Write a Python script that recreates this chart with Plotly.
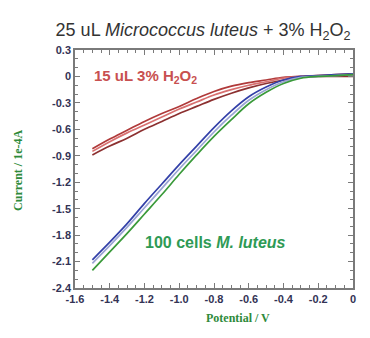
import plotly.graph_objects as go

potential = [-1.5, -1.4, -1.3, -1.2, -1.1, -1.0, -0.9, -0.8, -0.7, -0.6, -0.5, -0.4, -0.3, -0.2, -0.1, 0.0]

h2o2_a = [-0.82, -0.71, -0.61, -0.51, -0.42, -0.34, -0.25, -0.17, -0.11, -0.07, -0.04, -0.01, 0.00, 0.01, 0.02, 0.03]
h2o2_b = [-0.85, -0.74, -0.64, -0.55, -0.46, -0.37, -0.29, -0.21, -0.15, -0.10, -0.06, -0.02, 0.00, 0.01, 0.01, 0.02]
h2o2_c = [-0.89, -0.79, -0.70, -0.60, -0.51, -0.42, -0.34, -0.26, -0.19, -0.13, -0.08, -0.04, -0.01, 0.00, 0.00, 0.00]

cells_blue1 = [-2.08, -1.88, -1.67, -1.44, -1.22, -1.00, -0.79, -0.58, -0.39, -0.23, -0.12, -0.04, 0.00, 0.01, 0.02, 0.03]
cells_blue2 = [-2.12, -1.92, -1.71, -1.49, -1.27, -1.05, -0.84, -0.63, -0.44, -0.27, -0.15, -0.06, -0.01, 0.00, 0.01, 0.02]
cells_green = [-2.20, -1.99, -1.78, -1.56, -1.34, -1.11, -0.89, -0.68, -0.49, -0.31, -0.18, -0.08, -0.02, 0.00, 0.01, 0.02]

x_ticks = [-1.6, -1.4, -1.2, -1.0, -0.8, -0.6, -0.4, -0.2, 0.0]
x_labels = ["-1.6", "-1.4", "-1.2", "-1.0", "-0.8", "-0.6", "-0.4", "-0.2", "0"]
y_ticks = [0.3, 0, -0.3, -0.6, -0.9, -1.2, -1.5, -1.8, -2.1, -2.4]
y_labels = ["0.3", "0", "-0.3", "-0.6", "-0.9", "-1.2", "-1.5", "-1.8", "-2.1", "-2.4"]

fig = go.Figure()
series = [
    (h2o2_a, "#b03a3a"),
    (h2o2_b, "#d87070"),
    (h2o2_c, "#8c3030"),
    (cells_blue1, "#3340a8"),
    (cells_blue2, "#9aa4d4"),
    (cells_green, "#3a9a3a"),
]
for ys, c in series:
    fig.add_trace(go.Scatter(x=potential, y=ys, mode="lines",
                             line=dict(color=c, width=1.7, shape="spline"),
                             showlegend=False, hoverinfo="skip"))

fig.add_annotation(x=-1.50, y=0.0, xref="x", yref="y", xanchor="left", yanchor="middle",
                   text="<b>15 uL 3% H<sub>2</sub>O<sub>2</sub></b>", showarrow=False,
                   font=dict(family="Arial, Liberation Sans", size=15, color="#c85050"))
fig.add_annotation(x=-1.21, y=-1.88, xref="x", yref="y", xanchor="left", yanchor="middle",
                   text="<b>100 cells <i>M. luteus</i></b>", showarrow=False,
                   font=dict(family="Arial, Liberation Sans", size=16, color="#2e9a55"))

fig.add_annotation(x=0.586, y=-0.126, xref="paper", yref="paper", xanchor="center", yanchor="middle",
                   text="<b>Potential / V</b>", showarrow=False,
                   font=dict(family="Liberation Serif, Times New Roman", size=12, color="#2e8a3a"))
fig.add_annotation(x=-0.205, y=0.492, xref="paper", yref="paper", xanchor="center", yanchor="middle",
                   text="<b>Current / 1e-4A</b>", showarrow=False, textangle=-90,
                   font=dict(family="Liberation Serif, Times New Roman", size=12, color="#2e8a3a"))

tickfont = dict(family="Arial, Liberation Sans", size=11, color="#333355")
axis_common = dict(showline=True, linecolor="#7a7a7a", linewidth=1.5, mirror="ticks",
                   ticks="inside", ticklen=5, tickcolor="#7a7a7a", showgrid=False, zeroline=False,
                   tickfont=tickfont)

fig.update_layout(
    width=362, height=330,
    margin=dict(l=67, r=17, t=42, b=50),
    paper_bgcolor="white", plot_bgcolor="white",
    title=dict(text="25 uL <i>Micrococcus luteus</i> + 3% H<sub>2</sub>O<sub>2</sub>",
               x=0.539, xanchor="center", y=0.933, yanchor="middle",
               font=dict(family="Arial, Liberation Sans", size=18, color="#333333")),
    xaxis=dict(range=[-1.6, 0], tickvals=x_ticks, ticktext=["<b>%s</b>" % t for t in x_labels],
               minor=dict(dtick=0.05, ticks="inside", ticklen=3, tickcolor="#7a7a7a"),
               **axis_common),
    yaxis=dict(range=[-2.4, 0.3], tickvals=y_ticks, ticktext=["<b>%s</b>" % t for t in y_labels],
               minor=dict(dtick=0.1, ticks="inside", ticklen=3, tickcolor="#7a7a7a"),
               **axis_common),
)
fig.write_html("out.html")
